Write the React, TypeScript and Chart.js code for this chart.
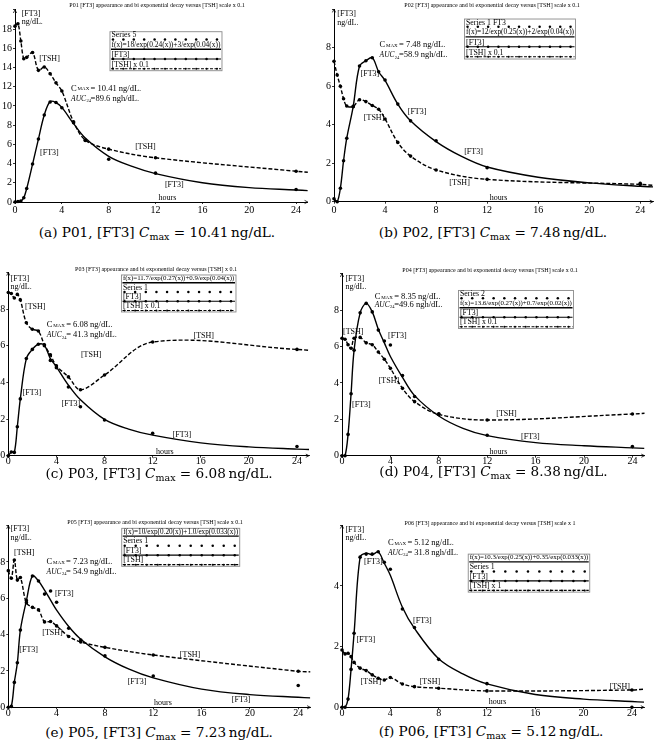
import React, { useEffect, useRef } from 'react';
import { Chart, registerables } from 'chart.js';
Chart.register(...registerables);

// ---------- data ----------
const TIMES = [0, 0.25, 0.5, 0.75, 1, 1.5, 2, 2.5, 3, 3.5, 4, 5, 6, 8, 12, 24];
const FIT_TIMES = [0, 0.25, 0.5, 0.75, 1, 1.5, 2, 2.5, 3, 3.5, 4, 5, 6, 8, 10, 12, 16, 20, 24, 25];
const TAIL_TIME = 25;

const P01_FT3 = [0, 0.05, 0.1, 0.45, 1.4, 3.95, 6.55, 9.05, 10.41, 10.35, 9.8, 8.25, 6.4, 4.45, 3.0, 1.3];
const P01_FIT = [0, 0.05, 0.1, 0.45, 1.4, 3.95, 6.55, 9.05, 10.45, 10.35, 9.85, 8.15, 6.65, 4.75, 3.7, 2.95, 2.0, 1.5, 1.25, 1.18];
const P01_TSH = [18.3, 18.55, 16.75, 14.9, 15.05, 15.55, 13.7, 14.05, 13.35, 12.4, 11.55, 8.35, 6.45, 5.5, 4.6, 3.2];
const P01_TSH_TAIL = 3.1;

const P02_FT3 = [0.15, 0, 0.7, 2.13, 3.3, 4.93, 7.05, 7.32, 7.48, 6.75, 6.32, 5.07, 4.2, 3.17, 1.77, 0.95];
const P02_FIT = [0.15, 0, 0.7, 2.13, 3.3, 4.93, 7.05, 7.32, 7.48, 6.75, 6.3, 5.07, 4.2, 3.12, 2.35, 1.8, 1.27, 0.98, 0.8, 0.77];
const P02_TSH = [7.3, 6.58, 6.0, 5.35, 4.97, 4.95, 5.3, 5.2, 5.0, 4.8, 4.3, 3.08, 2.37, 1.65, 1.16, 0.9];
const P02_TSH_TAIL = 0.85;

const P03_FT3 = [0, 0.2, 0.18, 1.58, 3.1, 5.3, 5.8, 6.08, 6.0, 5.2, 4.8, 3.75, 2.67, 1.95, 1.22, 0.5];
const P03_FIT = [0, 0.2, 0.18, 1.58, 3.1, 5.3, 5.8, 6.08, 6.02, 5.3, 4.85, 3.85, 3.05, 1.98, 1.45, 1.12, 0.7, 0.48, 0.36, 0.34];
const P03_TSH = [8.9, 8.85, 8.6, 8.8, 8.5, 7.25, 6.9, 6.8, 6.05, 5.5, 4.9, 4.3, 3.6, 4.4, 6.2, 5.8];
const P03_TSH_TAIL = 5.75;

const P04_FT3 = [0, 0, 1.17, 3.4, 5.8, 7.85, 8.37, 7.9, 6.9, 6.3, 6.08, 4.4, 3.25, 2.3, 1.12, 0.5];
const P04_FIT = [0, 0, 1.17, 3.4, 5.8, 7.85, 8.37, 7.9, 6.95, 6.2, 5.45, 4.3, 3.3, 2.18, 1.5, 1.1, 0.72, 0.55, 0.43, 0.4];
const P04_TSH = [6.45, 6.4, 6.1, 5.9, 6.45, 6.5, 6.2, 6.1, 5.7, 5.3, 4.8, 3.7, 2.97, 2.27, 1.96, 2.29];
const P04_TSH_TAIL = 2.33;

const P05_FT3 = [0, 0.05, 1.37, 2.45, 4.25, 5.87, 7.23, 6.95, 6.23, 6.4, 5.78, 4.35, 3.7, 2.83, 1.72, 1.2];
const P05_FIT = [0, 0.05, 1.37, 2.45, 4.25, 5.87, 7.23, 6.95, 6.45, 5.9, 5.35, 4.45, 3.75, 2.78, 2.1, 1.62, 1.0, 0.7, 0.55, 0.52];
const P05_TSH = [7.52, 7.1, 8.1, 7.0, 7.14, 5.75, 5.5, 5.36, 4.7, 4.72, 4.48, 3.9, 3.6, 3.3, 2.88, 1.98];
const P05_TSH_TAIL = 1.95;

const P06_FT3 = [0, 0, 0.27, 1.25, 2.44, 4.95, 5.05, 5.05, 5.13, 4.78, 4.55, 3.24, 2.63, 1.58, 0.78, 0];
const P06_FIT = [0, 0, 0.27, 1.25, 2.44, 4.95, 5.08, 5.03, 5.12, 4.75, 4.35, 3.3, 2.6, 1.6, 1.1, 0.77, 0.42, 0.27, 0.19, 0.17];
const P06_TSH = [1.89, 1.76, 1.78, 1.67, 1.48, 1.29, 1.21, 1.07, 0.96, 0.9, 0.98, 0.77, 0.68, 0.63, 0.54, 0.57];
const P06_TSH_TAIL = 0.6;

// text labels: [text, hours, value]
const P01_LABELS = [['[FT3]', 0.57, 19.6], ['ng/dL.', 0.57, 18.77], ['[TSH]', 2.08, 14.85], ['[FT3]', 2.14, 5.06], ['[TSH]', 10.26, 5.76], ['[FT3]', 12.8, 1.77], ['hours', 12.25, 0.45]];
const P02_LABELS = [['[FT3]', 0.26, 9.75], ['ng/dL.', 0.26, 9.3], ['[FT3]', 2.08, 6.63], ['[TSH]', 2.34, 4.33], ['[FT3]', 5.78, 4.68], ['[FT3]', 10.2, 2.6], ['[TSH]', 9.04, 0.99], ['hours', 12.2, 0.21]];
const P03_LABELS = [['[FT3]', 0.19, 9.67], ['ng/dL.', 0.19, 9.22], ['[TSH]', 1.39, 8.13], ['[TSH]', 6.04, 5.49], ['[TSH]', 15.4, 6.53], ['[FT3]', 1.19, 3.44], ['[FT3]', 4.43, 2.82], ['[FT3]', 13.66, 1.16], ['hours', 12.27, 0.22]];
const P04_LABELS = [['[FT3]', 0.28, 9.74], ['ng/dL.', 0.28, 9.29], ['[TSH]', 0.08, 6.78], ['[FT3]', 3.8, 6.58], ['[TSH]', 3.03, 4.1], ['[FT3]', 0.83, 2.78], ['[TSH]', 12.75, 2.29], ['[FT3]', 14.8, 1.04], ['hours', 12.2, 0.22]];
const P05_LABELS = [['[FT3]', 0.19, 9.8], ['ng/dL.', 0.19, 9.34], ['[TSH]', 0.47, 8.48], ['[FT3]', 3.86, 6.22], ['[TSH]', 2.81, 4.11], ['[FT3]', 0.91, 3.16], ['[TSH]', 14.2, 2.88], ['[FT3]', 9.88, 1.41], ['[FT3]', 18.5, 0.4], ['hours', 12.06, 0.26]];
const P06_LABELS = [['[FT3]', 0.28, 5.85], ['ng/dL.', 0.28, 5.57], ['[FT3]', 1.82, 4.8], ['[FT3]', 5.88, 2.86], ['[FT3]', 1.19, 2.22], ['[TSH]', 1.54, 0.85], ['[TSH]', 6.43, 0.85], ['[TSH]', 22.15, 0.68], ['hours', 12.14, 0.19]];

const P01_LEGEND = [['Series 5', 'dots'], ['f(x)=18/exp(0.24(x))+3/exp(0.04(x))', 'line'], ['[FT3]', 'solid'], ['[TSH] x 0.1', 'dashed']];
const P02_LEGEND = [['Series 1 FT3', 'dots'], ['f(x)=12/exp(0.25(x))+2/exp(0.04(x))', 'line'], ['[FT3]', 'solid'], ['[TSH] x 0.1', 'dashed']];
const P03_LEGEND = [['f(x)=11.7/exp(0.27(x))+0.9/exp(0.04(x))', 'line'], ['Series 1', 'dots'], ['[FT3]', 'solid'], ['[TSH] x 0.1', 'dashed']];
const P04_LEGEND = [['Series 2', 'dots'], ['f(x)=13.6/exp(0.27(x))+0.7/exp(0.02(x))', 'line'], ['[FT3]', 'solid'], ['[TSH] x 0.1', 'dashed']];
const P05_LEGEND = [['f(x)=10/exp(0.20(x))+1.0/exp(0.033(x))', 'line'], ['Series 1', 'dots'], ['[FT3]', 'solid'], ['[TSH]', 'dashed']];
const P06_LEGEND = [['f(x)=10.3/exp(0.25(x))+0.35/exp(0.033(x))', 'line'], ['Series 1', 'dots'], ['[FT3]', 'solid'], ['[TSH] x 1', 'dashed']];

const CMAX_TEXT = ['= 10.41 ng/dL.', '= 7.48 ng/dL.', '= 6.08 ng/dL.', '= 8.35 ng/dL.', '= 7.23 ng/dL.', '= 5.12 ng/dL.'];
const AUC_TEXT = ['=89.6 ngh/dL.', '=58.9 ngh/dL.', '= 41.3 ngh/dL.', '=49.6 ngh/dL.', '= 54.9 ngh/dL.', '= 31.8 ngh/dL.'];
const CAPTION_VALUES = ['10.41', '7.48', '6.08', '8.38', '7.23', '5.12'];

// ---------- layout ----------
const SERIF = '"Liberation Serif", "Times New Roman", serif';

const PANELS = [
  { key: 'a', pid: 'P01', title: 'P01 [FT3] appearance and bi exponential decay versus [TSH] scale x 0.1',
    left: 0, top: 0, w: 328, h: 222, area: { l: 15, t: 9.8, r: 307.8, b: 202 }, ymax: 20, xPad: 0.7,
    titleXY: [157, 5], ft3: P01_FT3, fit: P01_FIT, tsh: P01_TSH, tail: P01_TSH_TAIL, labels: P01_LABELS,
    cmaxAt: [4.79, 11.83], aucAt: [4.79, 10.75], legend: P01_LEGEND, legendBox: [8.11, 17.72, 112, 39],
    caption: [157, 231.7] },
  { key: 'b', pid: 'P02', title: 'P02 [FT3] appearance and bi exponential decay versus [TSH] scale x 0.1',
    left: 322, top: 0, w: 335, h: 222, area: { l: 12, t: 9.2, r: 332, b: 201.7 }, ymax: 10, xPad: 0.3,
    titleXY: [170, 5], ft3: P02_FT3, fit: P02_FIT, tsh: P02_TSH, tail: P02_TSH_TAIL, labels: P02_LABELS,
    cmaxAt: [3.57, 8.14], aucAt: [3.57, 7.62], legend: P02_LEGEND, legendBox: [10.23, 9.49, 111, 40],
    caption: [493, 231.7] },
  { key: 'c', pid: 'P03', title: 'P03 [FT3] appearance and bi exponential decay versus [TSH] x 0.1',
    left: 0, top: 250, w: 328, h: 222, area: { l: 8.3, t: 22.4, r: 309, b: 205.7 }, ymax: 10, xPad: -2.5,
    titleXY: [156, 19], ft3: P03_FT3, fit: P03_FIT, tsh: P03_TSH, tail: P03_TSH_TAIL, labels: P03_LABELS,
    cmaxAt: [3.19, 7.13], aucAt: [3.19, 6.58], legend: P03_LEGEND, legendBox: [9.41, 9.86, 114.5, 37],
    caption: [159, 472.5] },
  { key: 'd', pid: 'P04', title: 'P04 [FT3] appearance and bi exponential decay versus [TSH] scale x 0.1',
    left: 322, top: 250, w: 335, h: 222, area: { l: 20, t: 23.7, r: 322.5, b: 205.7 }, ymax: 10, xPad: -2.5,
    titleXY: [168, 20], ft3: P04_FT3, fit: P04_FIT, tsh: P04_TSH, tail: P04_TSH_TAIL, labels: P04_LABELS,
    cmaxAt: [2.7, 8.74], aucAt: [2.7, 8.28], legend: P04_LEGEND, legendBox: [9.63, 9.08, 115, 38],
    caption: [493.5, 471] },
  { key: 'e', pid: 'P05', title: 'P05 [FT3] appearance and bi exponential decay versus [TSH] scale x 0.1',
    left: 0, top: 500, w: 328, h: 222, area: { l: 8.3, t: 25.6, r: 310.3, b: 207.3 }, ymax: 10, xPad: -1.7,
    titleXY: [155, 22.7], ft3: P05_FT3, fit: P05_FIT, tsh: P05_TSH, tail: P05_TSH_TAIL, labels: P05_LABELS,
    cmaxAt: [3.17, 8.02], aucAt: [3.17, 7.47], legend: P05_LEGEND, legendBox: [9.39, 9.85, 118, 38],
    caption: [159, 731.7] },
  { key: 'f', pid: 'P06', title: 'P06 [FT3] appearance and bi exponential decay versus [TSH] scale x 1',
    left: 322, top: 500, w: 335, h: 222, area: { l: 20, t: 25.3, r: 322, b: 207.3 }, ymax: 6, xPad: -1.7,
    titleXY: [168, 23.3], ft3: P06_FT3, fit: P06_FIT, tsh: P06_TSH, tail: P06_TSH_TAIL, labels: P06_LABELS,
    cmaxAt: [3.8, 5.43], aucAt: [3.8, 5.1], legend: P06_LEGEND, legendBox: [10.45, 5.05, 121.5, 38],
    caption: [491, 730.5] },
];

function drawLegend(ctx: CanvasRenderingContext2D, x0: number, y0: number, w: number, h: number, rows: any[]) {
  ctx.save();
  ctx.fillStyle = '#fff';
  ctx.fillRect(x0, y0, w, h);
  ctx.strokeStyle = '#8a8a8a';
  ctx.lineWidth = 0.9;
  ctx.strokeRect(x0, y0, w, h);
  const rh = h / rows.length;
  rows.forEach((row: any, i: number) => {
    const [text, kind] = row;
    const ty = y0 + i * rh + 3.5;
    const sy = y0 + i * rh + 7.8;
    ctx.fillStyle = '#000';
    ctx.font = '10px ' + SERIF;
    const w10 = ctx.measureText(text).width;
    const size = Math.min(7.8, (10 * (w - 3)) / w10);
    ctx.font = size.toFixed(2) + 'px ' + SERIF;
    ctx.textAlign = 'left';
    ctx.textBaseline = 'middle';
    ctx.fillText(text, x0 + 1.5, ty);
    ctx.strokeStyle = '#000';
    const n = 11;
    const step = (w - 8) / (n - 1);
    if (kind !== 'dots') {
      ctx.lineWidth = kind === 'line' ? 1.3 : 1.1;
      ctx.setLineDash(kind === 'dashed' ? [3, 1.5] : []);
      ctx.beginPath();
      ctx.moveTo(x0 + 1, sy);
      ctx.lineTo(x0 + w - 1, sy);
      ctx.stroke();
      ctx.setLineDash([]);
    }
    if (kind !== 'line') {
      for (let k = 0; k < n; k++) {
        ctx.beginPath();
        ctx.arc(x0 + 3 + k * step, sy, kind === 'dashed' ? 1.0 : 1.25, 0, Math.PI * 2);
        ctx.fill();
      }
    }
  });
  ctx.restore();
}

const decorPlugin = {
  id: 'decor',
  afterDraw(chart: any, _args: any, opts: any) {
    const p = opts.panel;
    if (!p) return;
    const ctx: CanvasRenderingContext2D = chart.ctx;
    const xs = chart.scales.x;
    const ys = chart.scales.y;
    const X = (t: number) => xs.getPixelForValue(t);
    const Y = (v: number) => ys.getPixelForValue(v);
    const ca = chart.chartArea;
    ctx.save();
    ctx.fillStyle = '#000';
    ctx.strokeStyle = '#000';
    // title
    ctx.font = '6px ' + SERIF;
    ctx.textAlign = 'center';
    ctx.textBaseline = 'middle';
    ctx.fillText(p.title, p.titleXY[0], p.titleXY[1]);
    // axis arrows
    ctx.lineWidth = 0.8;
    ctx.beginPath();
    ctx.moveTo(ca.left - 1.6, ca.top + 3.2);
    ctx.lineTo(ca.left, ca.top);
    ctx.lineTo(ca.left + 1.6, ca.top + 3.2);
    ctx.moveTo(ca.right - 3.2, ca.bottom - 1.6);
    ctx.lineTo(ca.right, ca.bottom);
    ctx.lineTo(ca.right - 3.2, ca.bottom + 1.6);
    ctx.stroke();
    // labels
    ctx.textAlign = 'left';
    ctx.font = '8px ' + SERIF;
    p.labels.forEach((l: any) => {
      ctx.fillText(l[0], X(l[1]), Y(l[2]));
    });
    // Cmax
    const cx = X(p.cmaxAt[0]);
    const cy = Y(p.cmaxAt[1]);
    ctx.font = '8.5px ' + SERIF;
    ctx.fillText('C', cx, cy);
    ctx.font = '5px ' + SERIF;
    ctx.fillText('MAX', cx + 6.5, cy + 0.8);
    ctx.font = '8.5px ' + SERIF;
    ctx.fillText(p.cmaxText, cx + 19.5, cy);
    // AUC
    const ax = X(p.aucAt[0]);
    const ay = Y(p.aucAt[1]);
    ctx.font = 'italic 7.5px ' + SERIF;
    ctx.fillText('AUC', ax, ay);
    const aw = ctx.measureText('AUC').width;
    ctx.font = '4.5px ' + SERIF;
    ctx.fillText('24', ax + aw + 0.3, ay + 2.3);
    ctx.font = '8.5px ' + SERIF;
    ctx.fillText(p.aucText, ax + 19.5, ay);
    ctx.restore();
    // legend
    const lb = p.legendBox;
    drawLegend(ctx, X(lb[0]), Y(lb[1]), lb[2], lb[3], p.legend);
  },
};

function Panel({ p, idx }: { p: any; idx: number }) {
  const ref = useRef<HTMLCanvasElement>(null);
  useEffect(() => {
    const canvas = ref.current;
    if (!canvas) return;
    const fitData = FIT_TIMES.map((t, i) => ({ x: t, y: p.fit[i] }));
    const obsData = TIMES.map((t, i) => ({ x: t, y: p.ft3[i] }));
    const tshData = TIMES.map((t, i) => ({ x: t, y: p.tsh[i] })).concat([{ x: TAIL_TIME, y: p.tail }]);
    const last = tshData.length - 1;
    const panel = { ...p, cmaxText: CMAX_TEXT[idx], aucText: AUC_TEXT[idx] };
    const tickFont = { family: SERIF, size: 10 };
    const chart = new Chart(canvas, {
      type: 'scatter',
      data: {
        datasets: [
          { label: 'fit', data: fitData, showLine: true, borderColor: '#000', borderWidth: 1.4, pointRadius: 0, tension: 0.35, fill: false },
          { label: 'tsh', data: tshData, showLine: true, borderColor: '#000', borderWidth: 1.4, borderDash: [4, 2], tension: 0.35, fill: false,
            pointRadius: (c: any) => (c.dataIndex === last ? 0 : 1.8), pointBackgroundColor: '#000', pointBorderWidth: 0, clip: 3 },
          { label: 'ft3', data: obsData, showLine: false, pointRadius: 1.8, pointBackgroundColor: '#000', pointBorderWidth: 0, clip: 3 },
        ],
      },
      options: {
        animation: false,
        responsive: false,
        events: [],
        layout: { padding: { left: 0, top: p.area.t, right: p.w - p.area.r, bottom: 0 } },
        plugins: { legend: { display: false }, tooltip: { enabled: false }, title: { display: false }, decor: { panel } } as any,
        scales: {
          x: {
            type: 'linear', min: 0, max: 25,
            afterFit: (s: any) => { s.height = p.h - p.area.b; },
            grid: { display: true, drawOnChartArea: false, tickLength: 2, color: '#000', lineWidth: 0.8 },
            border: { display: true, color: '#000', width: 1 },
            ticks: { stepSize: 4, includeBounds: false, font: tickFont, color: '#000', padding: p.xPad, maxRotation: 0, autoSkip: false },
          },
          y: {
            type: 'linear', min: 0, max: p.ymax,
            afterFit: (s: any) => { s.width = p.area.l; },
            grid: { display: true, drawOnChartArea: false, tickLength: 2, color: '#000', lineWidth: 0.8 },
            border: { display: true, color: '#000', width: 1 },
            ticks: { stepSize: 2, includeBounds: false, font: tickFont, color: '#000', padding: 1, autoSkip: false,
              callback: (v: any) => (v === p.ymax ? '' : String(v)) },
          },
        } as any,
      },
      plugins: [decorPlugin],
    } as any);
    return () => chart.destroy();
  }, []);
  return (
    <canvas
      ref={ref}
      width={p.w}
      height={p.h}
      style={{ position: 'absolute', left: p.left, top: p.top, width: p.w, height: p.h }}
    />
  );
}

function Caption({ p, idx }: { p: any; idx: number }) {
  const [cx, cy] = p.caption;
  return (
    <div
      style={{
        position: 'absolute', left: cx - 170, top: cy - 9, width: 340, textAlign: 'center',
        fontFamily: '"DejaVu Serif", serif', fontSize: 13.6, lineHeight: '18px', whiteSpace: 'nowrap', color: '#000',
      }}
    >
      {'(' + p.key + ') ' + p.pid + ', [FT3] '}
      <i>C</i>
      <span style={{ fontSize: 9.5, position: 'relative', top: 3 }}>max</span>
      {' = ' + CAPTION_VALUES[idx] + '\u2009ng/dL.'}
    </div>
  );
}

export default function App() {
  return (
    <div style={{ position: 'absolute', left: 0, top: 0, width: 657, height: 750, background: '#fff', overflow: 'hidden' }}>
      {PANELS.map((p, i) => (
        <Panel key={p.key} p={p} idx={i} />
      ))}
      {PANELS.map((p, i) => (
        <Caption key={'c' + p.key} p={p} idx={i} />
      ))}
    </div>
  );
}
